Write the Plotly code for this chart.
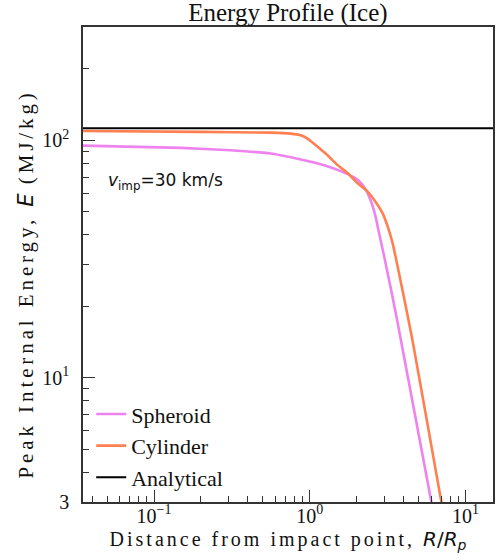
import plotly.graph_objects as go

# Data
spheroid_r = [0.035, 0.148, 0.31, 0.56, 0.65, 0.92, 1.236, 1.58, 1.927, 2.128, 2.29, 2.405, 2.53, 2.66, 2.725, 2.86, 3.0, 3.32, 3.66, 6.0, 6.2]
spheroid_e = [95.0, 92.9, 90.8, 88.0, 86.5, 82.5, 78.6, 74.2, 69.8, 66.2, 61.8, 57.9, 53.0, 47.0, 43.4, 37.5, 32.5, 23.6, 17.1, 3.05, 2.7]

cylinder_r = [0.035, 0.2, 0.56, 0.755, 0.875, 0.966, 1.06, 1.177, 1.3, 1.51, 1.755, 2.03, 2.35, 2.59, 2.93, 3.16, 3.4, 3.85, 4.25, 4.58, 6.96, 7.2]
cylinder_e = [109.4, 108.5, 107.7, 106.7, 105.0, 101.7, 96.9, 91.4, 86.5, 78.6, 72.6, 65.9, 60.8, 56.1, 49.4, 43.4, 36.9, 25.1, 18.2, 14.2, 3.05, 2.7]

analytical_r = [0.01, 100]
analytical_e = [112.3, 112.3]

x_tickvals = [0.1, 1, 10]
x_ticktext = ["10<sup>\u22121</sup>", "10<sup>0</sup>", "10<sup>1</sup>"]
x_minor = [0.04, 0.05, 0.06, 0.07, 0.08, 0.09,
           0.2, 0.3, 0.4, 0.5, 0.6, 0.7, 0.8, 0.9,
           2, 3, 4, 5, 6, 7, 8, 9]
y_tickvals = [3, 10, 100]
y_ticktext = ["3", "10<sup>1</sup>", "10<sup>2</sup>"]
y_minor = [4, 5, 6, 7, 8, 9, 20, 30, 40, 50, 60, 70, 80, 90, 200]

SERIF = "Liberation Serif, Times New Roman, serif"
SANS = "DejaVu Sans, sans-serif"

fig = go.Figure()
fig.add_trace(go.Scatter(x=spheroid_r, y=spheroid_e, mode="lines", name="Spheroid",
                         line=dict(color="#EE82EE", width=2.6, shape="spline", smoothing=0.5)))
fig.add_trace(go.Scatter(x=cylinder_r, y=cylinder_e, mode="lines", name="Cylinder",
                         line=dict(color="#FF7F50", width=2.6, shape="spline", smoothing=0.5)))
fig.add_trace(go.Scatter(x=analytical_r, y=analytical_e, mode="lines", name="Analytical",
                         line=dict(color="black", width=2)))

axis_common = dict(
    type="log", showgrid=False, zeroline=False,
    showline=True, linecolor="#333", linewidth=1.5, mirror=True,
    ticks="inside", ticklen=12, tickwidth=1.2, tickcolor="#333",
    tickfont=dict(family=SERIF, size=20, color="#111"),
)

fig.update_xaxes(
    **axis_common,
    range=[-1.456, 1.176],
    tickmode="array", tickvals=x_tickvals, ticktext=x_ticktext,
    ticklabelstandoff=-5,
    minor=dict(tickmode="array", tickvals=x_minor, ticks="inside", ticklen=6, tickwidth=1.2, tickcolor="#333"),
    title=dict(
        text='<span style="letter-spacing:3px">Distance from impact point, </span>'
             '<span style="font-family:DejaVu Sans"><i>R</i>/<i>R<sub>p</sub></i></span>',
        font=dict(family=SERIF, size=20, color="#111"), standoff=6),
)
fig.update_yaxes(
    **axis_common,
    range=[0.4771, 2.4771],
    tickmode="array", tickvals=y_tickvals, ticktext=y_ticktext,
    ticklabelstandoff=8,
    minor=dict(tickmode="array", tickvals=y_minor, ticks="inside", ticklen=6, tickwidth=1.2, tickcolor="#333"),
)

# y-axis title placed as a rotated annotation (reference centres it a bit below the plot middle)
fig.add_annotation(
    xref="paper", yref="paper", x=-0.139, y=0.458, xanchor="center", yanchor="middle",
    textangle=-90, showarrow=False,
    text='<span style="letter-spacing:3.9px">Peak Internal Energy, </span>'
         '<span style="font-family:DejaVu Sans"><i>E</i></span>'
         '<span style="letter-spacing:3.9px"> (MJ/kg)</span>',
    font=dict(family=SERIF, size=21, color="#111"),
)

fig.add_annotation(
    xref="paper", yref="paper", x=0.055, y=0.674, xanchor="left", yanchor="middle",
    text="<i>v</i><sub>imp</sub>=30 km/s", showarrow=False,
    font=dict(family=SANS, size=17, color="#111"),
)

fig.update_layout(
    width=499, height=560,
    margin=dict(l=83, r=6, t=27, b=58, autoexpand=False),
    paper_bgcolor="white", plot_bgcolor="white",
    title=dict(text="Energy Profile (Ice)", x=0.577, xanchor="center",
               yref="container", y=1.0, yanchor="top", pad=dict(t=3),
               font=dict(family=SERIF, size=25, color="#111"), automargin=False),
    legend=dict(x=0.02, y=0.008, xanchor="left", yanchor="bottom",
                bgcolor="rgba(0,0,0,0)", font=dict(family=SERIF, size=22, color="#111"),
                itemwidth=30, tracegroupgap=0),
    showlegend=True,
)

fig.write_html("out.html", config={"displayModeBar": False},
               post_script="document.body.style.margin='0';document.body.style.overflow='hidden';")
